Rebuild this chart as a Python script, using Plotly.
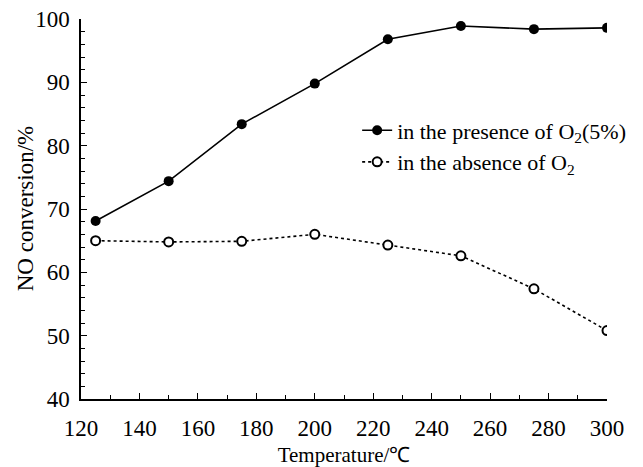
import plotly.graph_objects as go

temperature = [125, 150, 175, 200, 225, 250, 275, 300]
with_o2 = [68.1, 74.4, 83.4, 89.8, 96.8, 98.9, 98.4, 98.6]
without_o2 = [65.0, 64.8, 64.9, 66.0, 64.3, 62.6, 57.4, 50.8]

x_ticks = list(range(120, 301, 20))
y_ticks = list(range(40, 101, 10))

font_family = "Liberation Serif, Times New Roman, serif"

fig = go.Figure()
fig.add_trace(go.Scatter(
    x=temperature, y=with_o2, mode="lines+markers",
    name="in the presence of O<sub>2</sub>(5%)",
    line=dict(color="black", width=1.6, dash="solid"),
    marker=dict(symbol="circle", size=10, color="black"),
))
fig.add_trace(go.Scatter(
    x=temperature, y=without_o2, mode="lines+markers",
    name="in the absence of O<sub>2</sub>",
    line=dict(color="black", width=1.6, dash="dot"),
    marker=dict(symbol="circle", size=9, color="white",
                line=dict(color="black", width=2)),
))

fig.update_layout(
    width=643, height=467,
    margin=dict(l=81, r=34, t=19, b=68),
    paper_bgcolor="white", plot_bgcolor="white",
    font=dict(family=font_family, size=22, color="black"),
    legend=dict(x=0.525, y=0.762, xanchor="left", yanchor="top",
                bgcolor="rgba(0,0,0,0)", font=dict(size=22),
                tracegroupgap=0, itemwidth=30),
    xaxis=dict(
        range=[120, 300], tickvals=x_ticks, showgrid=False, zeroline=False,
        showline=True, linecolor="black", linewidth=1.5, automargin=False,
        ticks="inside", ticklen=6, tickwidth=1.2, tickcolor="black",
        minor=dict(dtick=10, ticks="inside", ticklen=4, tickwidth=1.2,
                   tickcolor="black", showgrid=False),
        title=dict(text="Temperature/℃", font=dict(size=21)),
        tickfont=dict(size=23), ticklabelstandoff=8,
    ),
    yaxis=dict(
        range=[40, 100], tickvals=y_ticks, showgrid=False, zeroline=False,
        showline=True, linecolor="black", linewidth=1.5, automargin=False,
        ticks="inside", ticklen=6, tickwidth=1.2, tickcolor="black",
        minor=dict(dtick=2, ticks="inside", ticklen=4, tickwidth=1.2,
                   tickcolor="black", showgrid=False),
        tickfont=dict(size=23), ticklabelstandoff=5,
    ),
    annotations=[dict(
        text="NO conversion/%", textangle=-90, showarrow=False,
        xref="paper", yref="paper", x=-0.106, y=0.5,
        xanchor="center", yanchor="middle", font=dict(size=23),
    )],
)

fig.write_html("out.html")
